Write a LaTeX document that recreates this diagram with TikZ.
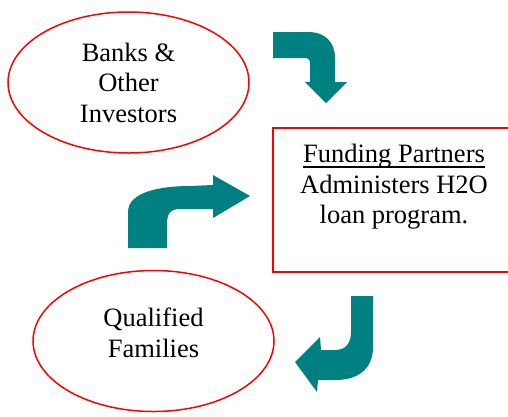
\documentclass[tikz,border=0pt]{standalone}
\usepackage{fontspec}
\setmainfont{Liberation Serif}
\usepackage{tikz}
\usetikzlibrary{shapes,positioning}
\definecolor{arrowteal}{HTML}{008080}
\definecolor{borderred}{HTML}{FF0000}
\newcommand{\ulinetext}[1]{\setbox0\hbox{#1}\rlap{\rule[-5pt]{\wd0}{1.8pt}}\box0}
\tikzset{
bigtext/.style={
    font=\fontsize{26.5}{30.5}\selectfont,
    align=center
},
oval/.style={
    ellipse,
    draw=borderred,
    line width=1.5pt,
    minimum width=241pt,
    minimum height=141pt,
    bigtext
},
block/.style={
    rectangle,
    draw=borderred,
    line width=2pt,
    minimum width=242pt,
    minimum height=144pt
},
bentarrow/.style={
    fill=arrowteal,
    draw=none
}
}
\begin{document}
\begin{tikzpicture}[x=1pt,y=-1pt]
\useasboundingbox (0,0) rectangle (508,416);

\node[oval] (investors) at (128.5,82.5) {Banks \&\\Other\\Investors};
\node[block] (partners) at (394,200) {};
\node[bigtext, inner sep=0pt, below=17pt of partners.north] (partnerstext)
    {\ulinetext{Funding Partners}\\Administers H2O\\loan program.};
\node[oval] (families) at (153.5,341) {};
\node[bigtext, inner sep=0pt] (familiestext) at ([yshift=8pt]families.center) {Qualified\\Families};

% investors -> partners
\path[bentarrow] (273,32) -- (308,32) .. controls (325,32) and (335,42) .. (335,58)
    -- (335,82) -- (347,82) -- (326,103) -- (305,82) -- (310,82) -- (310,64)
    .. controls (310,60) and (309,58) .. (305,58) -- (273,58) -- cycle;
% families -> partners
\path[bentarrow] (128,248) -- (128,212) .. controls (128,192) and (160,186) .. (190,186)
    -- (213,185) -- (213,175) -- (250,196) -- (213,218) -- (213,209) -- (180,209)
    .. controls (170,209) and (167,214) .. (167,224) -- (167,248) -- cycle;
% partners -> families
\path[bentarrow] (351,296) -- (373,296) -- (373,347) .. controls (373,370) and (357,380) .. (335,380)
    -- (318,380) -- (317,392) -- (295,362) -- (320,337) -- (321,350) -- (335,350)
    .. controls (346,350) and (351,343) .. (351,332) -- cycle;

\end{tikzpicture}
\end{document}
